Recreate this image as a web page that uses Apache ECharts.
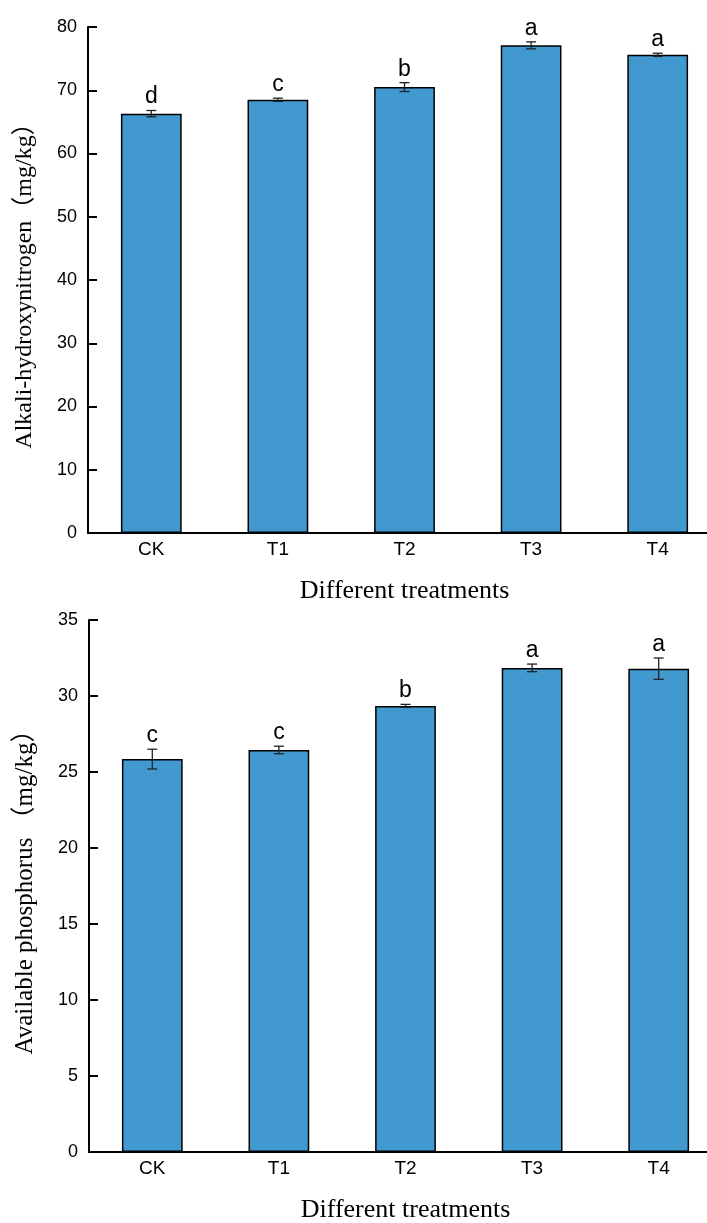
<!DOCTYPE html>
<html>
<head>
<meta charset="utf-8">
<script src="https://cdn.jsdelivr.net/npm/echarts@6/dist/echarts.min.js"></script>
<style>
  html, body { margin: 0; padding: 0; background: #ffffff; }
  #chart { width: 707px; height: 1223px; }
</style>
</head>
<body>
<div id="chart"></div>
<script>
// Soil nutrient contents under different treatments (mean ± error, significance letters)
const treatments = ['CK', 'T1', 'T2', 'T3', 'T4'];

const nitrogenMean = [66.3, 68.5, 70.5, 77.1, 75.6];
const nitrogenErr = [0.5, 0.25, 0.7, 0.55, 0.25];
const nitrogenLetters = ['d', 'c', 'b', 'a', 'a'];
const nitrogenTicks = { min: 0, max: 80, interval: 10 };

const phosphorusMean = [25.85, 26.45, 29.35, 31.85, 31.8];
const phosphorusErr = [0.65, 0.25, 0.1, 0.25, 0.7];
const phosphorusLetters = ['c', 'c', 'b', 'a', 'a'];
const phosphorusTicks = { min: 0, max: 35, interval: 5 };

const BAR_COLOR = '#4199d0';
const SANS = '"Liberation Sans", Arial, sans-serif';
const SERIF = '"Liberation Serif", "Times New Roman", "Noto Sans CJK SC", serif';

function errorBars(means, errs) {
  return means.map((m, i) => [i, m + errs[i], m - errs[i]]);
}

function errorBarRenderer(letters) {
  return function (params, api) {
    const i = params.dataIndex;
    const hi = api.coord([api.value(0), api.value(1)]);
    const lo = api.coord([api.value(0), api.value(2)]);
    const cap = 5;
    const lineStyle = { stroke: '#222222', lineWidth: 1.3 };
    return {
      type: 'group',
      children: [
        { type: 'line', shape: { x1: hi[0], y1: hi[1], x2: lo[0], y2: lo[1] }, style: lineStyle },
        { type: 'line', shape: { x1: hi[0] - cap, y1: hi[1], x2: hi[0] + cap, y2: hi[1] }, style: lineStyle },
        { type: 'line', shape: { x1: lo[0] - cap, y1: lo[1], x2: lo[0] + cap, y2: lo[1] }, style: lineStyle },
        {
          type: 'text', x: hi[0], y: hi[1] - 2,
          style: {
            text: letters[i], font: '23px ' + SANS, fill: '#000000',
            textAlign: 'center', textVerticalAlign: 'bottom'
          }
        }
      ]
    };
  };
}

function xAxisFor(gridIndex) {
  return {
    type: 'category', gridIndex, data: treatments,
    name: 'Different treatments', nameLocation: 'middle', nameGap: 45,
    nameTextStyle: { fontFamily: SERIF, fontSize: 26, color: '#000000' },
    axisLine: { lineStyle: { color: '#000000', width: 2 } },
    axisTick: { show: false },
    axisLabel: { fontFamily: SANS, fontSize: 19, color: '#000000', margin: 7 },
    splitLine: { show: false }
  };
}

function yAxisFor(gridIndex, name, ticks, nameSize) {
  return {
    type: 'value', gridIndex, min: ticks.min, max: ticks.max, interval: ticks.interval,
    name, nameLocation: 'middle', nameGap: 51,
    nameTextStyle: { fontFamily: SERIF, fontSize: nameSize, color: '#000000' },
    axisLine: { show: true, lineStyle: { color: '#000000', width: 2 } },
    axisTick: { show: true, inside: true, length: 9, lineStyle: { color: '#000000', width: 2 } },
    axisLabel: { fontFamily: SANS, fontSize: 18, color: '#000000', margin: 11 },
    splitLine: { show: false }
  };
}

const chart = echarts.init(document.getElementById('chart'), null, { renderer: 'canvas' });

chart.setOption({
  backgroundColor: '#ffffff',
  animation: false,
  grid: [
    { left: 88, top: 27, width: 633, height: 506, outerBoundsMode: 'none', containLabel: false },
    { left: 89, top: 620, width: 633, height: 532, outerBoundsMode: 'none', containLabel: false }
  ],
  xAxis: [xAxisFor(0), xAxisFor(1)],
  yAxis: [
    yAxisFor(0, 'Alkali-hydroxynitrogen（mg/kg）', nitrogenTicks, 24),
    yAxisFor(1, 'Available phosphorus （mg/kg）', phosphorusTicks, 25)
  ],
  series: [
    {
      type: 'bar', xAxisIndex: 0, yAxisIndex: 0, data: nitrogenMean,
      barWidth: '48%',
      itemStyle: { color: BAR_COLOR, borderColor: '#000000', borderWidth: 1.5 }
    },
    {
      type: 'custom', xAxisIndex: 0, yAxisIndex: 0,
      data: errorBars(nitrogenMean, nitrogenErr),
      renderItem: errorBarRenderer(nitrogenLetters), z: 5
    },
    {
      type: 'bar', xAxisIndex: 1, yAxisIndex: 1, data: phosphorusMean,
      barWidth: '48%',
      itemStyle: { color: BAR_COLOR, borderColor: '#000000', borderWidth: 1.5 }
    },
    {
      type: 'custom', xAxisIndex: 1, yAxisIndex: 1,
      data: errorBars(phosphorusMean, phosphorusErr),
      renderItem: errorBarRenderer(phosphorusLetters), z: 5
    }
  ]
});
</script>
</body>
</html>
